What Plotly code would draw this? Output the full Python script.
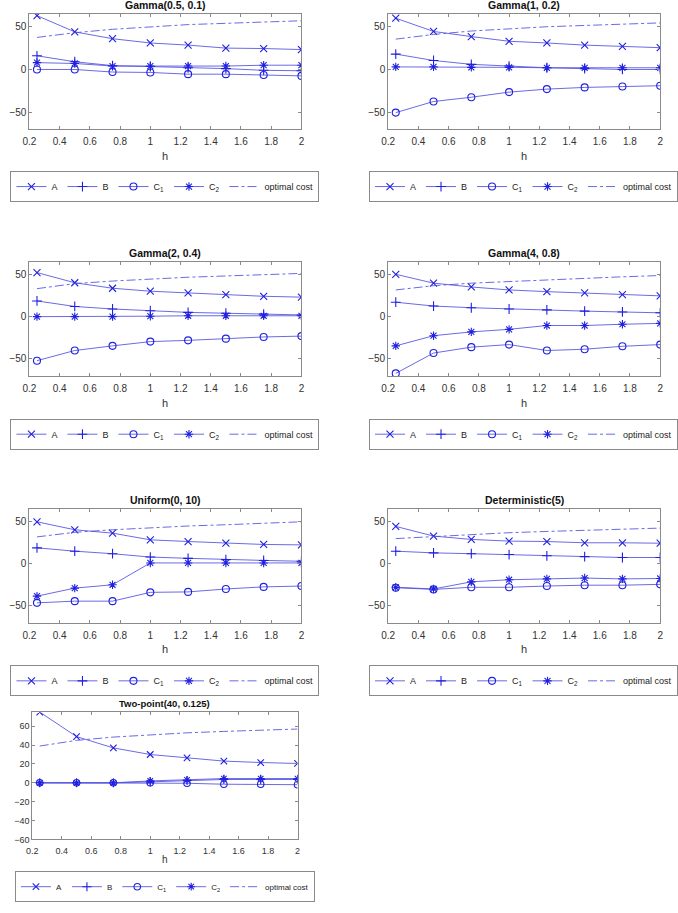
import plotly.graph_objects as go

h = [0.25, 0.5, 0.75, 1.0, 1.25, 1.5, 1.75, 2.0]

titles = ["Gamma(0.5, 0.1)", "Gamma(1, 0.2)", "Gamma(2, 0.4)", "Gamma(4, 0.8)",
          "Uniform(0, 10)", "Deterministic(5)", "Two-point(40, 0.125)"]

A_vals = [
    [63, 44, 36, 31, 28.5, 25, 24.5, 23.3],
    [60, 44.5, 38.5, 33, 31, 28.5, 27, 25.5],
    [52, 40, 33.5, 30, 28, 26, 24, 23],
    [50, 39.5, 35, 31.5, 29.5, 28, 26, 24.5],
    [50, 40.5, 36.5, 28.5, 26.5, 24.5, 23, 22.5],
    [44.5, 33, 29, 27, 26.5, 25, 25, 24.5],
    [75, 49, 37, 30, 26.5, 23, 21.5, 20.5],
]
B_vals = [
    [16, 9, 4.5, 3.5, 2, 1, -1, -1.5],
    [18, 10.5, 6, 4, 2, 1, 0, 0],
    [18.5, 12, 9, 7, 5, 4, 3, 2],
    [17, 12.5, 10.5, 9, 8, 6.5, 5.5, 4.5],
    [19, 15, 12, 8, 6.5, 5, 4, 3],
    [15, 13, 12, 11, 9.5, 8.5, 7.5, 7.5],
    [0, 0, 0, 1, 2.5, 3.5, 3.5, 3.5],
]
C1_vals = [
    [0, 0, -3, -3.5, -5.5, -5.5, -6.5, -7.5],
    [-50.5, -37.5, -32.5, -26.5, -23, -21, -20, -19],
    [-52, -40, -34.5, -29.5, -28, -26, -24, -23],
    [-67, -43, -36, -33, -40, -38.5, -35, -33],
    [-46.5, -44.5, -44.5, -34, -33.5, -30, -27.5, -26.5],
    [-28.5, -30.5, -28, -28, -26.5, -25.5, -25.5, -24.5],
    [0, 0, 0, 0, -0.5, -1.5, -1.5, -2],
]
C2_vals = [
    [8, 7, 4, 4, 4, 4, 5, 5],
    [3, 3, 2.5, 2.5, 2, 2, 2, 2],
    [0, 0, 0, 0.5, 1, 1, 1, 1],
    [-34.5, -22.5, -18, -15, -10.5, -10.5, -9, -8],
    [-38.5, -29, -25, 1, 1, 1, 1, 1],
    [-28, -30, -21.5, -19, -18, -17, -18, -17.5],
    [0, 0, 0, 2, 3, 4.5, 4.5, 4.5],
]
opt_vals = [
    [37.5, 43, 47, 50, 52.5, 54, 55.5, 57],
    [35.5, 41, 45, 47.5, 50, 51.5, 53, 54.5],
    [33, 39, 42, 44.5, 46.5, 48, 49.5, 51],
    [31.5, 36.5, 39.5, 41.5, 43.5, 45.5, 47, 48.5],
    [32, 37.5, 40.5, 43, 45, 46.5, 48.5, 50],
    [30, 32.5, 35, 37, 38.5, 40, 41.5, 42.5],
    [39, 45, 48.5, 51, 53, 54.5, 56, 57],
]

series_names = ["A", "B", "C<sub>1</sub>", "C<sub>2</sub>", "optimal cost"]
x_ticks = [0.2, 0.4, 0.6, 0.8, 1.0, 1.2, 1.4, 1.6, 1.8, 2.0]

W, H = 678, 913
# pixel boxes: (left, right, top, bottom)
boxes = [
    (23, 302, 14, 130), (391, 670, 14, 130),
    (23, 302, 263, 378), (391, 670, 263, 378),
    (23, 302, 512, 626), (391, 670, 512, 626),
    (26, 298, 716, 844),
]
# legend (center x, top y)
legend_pos = [(162, 172), (530, 172), (162, 421), (530, 421), (162, 669), (530, 669), (162, 876)]

FONT = "Liberation Sans, Arial, sans-serif"
LINE = "rgba(80,80,225,0.85)"
MK = "#2020e0"

fig = go.Figure()
layout = dict(width=W, height=H, margin=dict(l=0, r=0, t=0, b=0),
              paper_bgcolor="white", plot_bgcolor="white",
              font=dict(family=FONT, color="#262626"), annotations=[])

symbols = ["x-thin-open", "cross-thin-open", "circle-open", "asterisk-open"]

for i in range(7):
    k = "" if i == 0 else str(i + 1)
    xa, ya = "x" + k, "y" + k
    lg = "legend" + k
    small = (i == 6)
    data = [A_vals[i], B_vals[i], C1_vals[i], C2_vals[i]]
    for j in range(4):
        fig.add_trace(go.Scatter(
            x=h, y=data[j], mode="lines+markers", name=series_names[j],
            xaxis=xa, yaxis=ya, legend=lg,
            line=dict(color=LINE, width=1),
            marker=dict(symbol=symbols[j], size=6.5 if small else 7,
                        color=MK, line=dict(color=MK, width=1.1)),
        ))
    fig.add_trace(go.Scatter(
        x=h, y=opt_vals[i], mode="lines", name=series_names[4],
        xaxis=xa, yaxis=ya, legend=lg,
        line=dict(color=LINE, width=1, dash="dashdot"),
    ))
    l, r, t, b = boxes[i]
    tf = 9 if small else 10
    axcommon = dict(showline=True, linecolor="#8a8a8a", linewidth=1, mirror="ticks",
                    ticks="inside", ticklen=3, tickcolor="#8a8a8a", showgrid=False,
                    zeroline=False, tickfont=dict(family=FONT, size=tf, color="#333333"))
    layout["xaxis" + k] = dict(domain=[l / W, r / W], anchor=ya, range=[0.2, 2.0],
                               tickvals=x_ticks, ticklabelstandoff=3, **axcommon)
    if small:
        yr, dt = [-60, 75], 20
    else:
        yr, dt = [-70, 65], 50
    layout["yaxis" + k] = dict(domain=[1 - b / H, 1 - t / H], anchor=xa, range=yr,
                               tick0=0, dtick=dt, **axcommon)
    cx = (l + r) / 2 / W
    layout["annotations"].append(dict(
        text="<b>%s</b>" % titles[i], x=cx, y=1 - (t - 1) / H, xref="paper", yref="paper",
        xanchor="center", yanchor="bottom", showarrow=False,
        font=dict(family=FONT, size=9.5 if small else 10.5, color="#111111")))
    hy = b + (20 if small else 27)
    layout["annotations"].append(dict(
        text="h", x=cx, y=1 - hy / H, xref="paper", yref="paper",
        xanchor="center", yanchor="middle", showarrow=False,
        font=dict(family=FONT, size=10 if small else 11, color="#333333")))
    lx, ly = legend_pos[i]
    layout[lg] = dict(x=lx / W, y=1 - ly / H, xanchor="center", yanchor="top",
                      orientation="h", bordercolor="#8a8a8a", borderwidth=1,
                      bgcolor="white", font=dict(family=FONT, size=8 if small else 9,
                                                  color="#222222"),
                      tracegroupgap=0, itemwidth=30)

fig.update_layout(**layout)
fig.write_html("out.html")
